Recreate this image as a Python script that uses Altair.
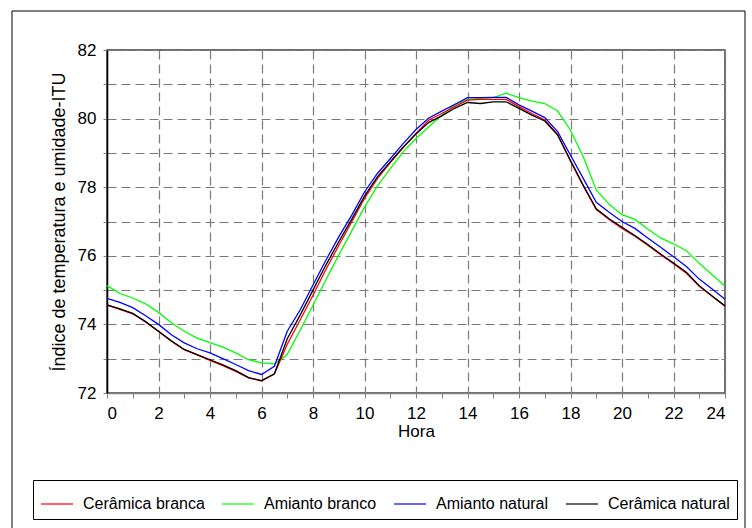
import altair as alt
import pandas as pd

hours = [0, 0.5, 1, 1.5, 2, 2.5, 3, 3.5, 4, 4.5, 5, 5.5, 6, 6.5, 7, 7.5, 8, 8.5,
         9, 9.5, 10, 10.5, 11, 11.5, 12, 12.5, 13, 13.5, 14, 14.5, 15, 15.5, 16,
         16.5, 17, 17.5, 18, 18.5, 19, 19.5, 20, 20.5, 21, 21.5, 22, 22.5, 23,
         23.5, 24]

ceramica_branca = [74.56, 74.44, 74.31, 74.07, 73.79, 73.51, 73.26, 73.11, 72.95, 72.80, 72.63, 72.44, 72.35,
                   72.55, 73.42, 74.13, 74.85, 75.60, 76.30, 76.99, 77.67, 78.25, 78.72, 79.15, 79.57,
                   79.96, 80.15, 80.35, 80.54, 80.56, 80.56, 80.56, 80.35, 80.15, 79.96, 79.54, 78.76,
                   78.03, 77.35, 77.06, 76.80, 76.57, 76.31, 76.03, 75.77, 75.49, 75.11, 74.82, 74.53]

amianto_branco = [75.13, 74.90, 74.77, 74.60, 74.35, 74.05, 73.80, 73.60, 73.47, 73.34, 73.17, 72.97, 72.88,
                  72.85, 73.12, 73.83, 74.56, 75.30, 76.02, 76.72, 77.42, 78.03, 78.54, 79.03, 79.42,
                  79.76, 80.10, 80.40, 80.56, 80.59, 80.61, 80.74, 80.61, 80.51, 80.44, 80.22, 79.66,
                  78.88, 77.92, 77.50, 77.20, 77.06, 76.78, 76.52, 76.35, 76.15, 75.78, 75.45, 75.11]

amianto_natural = [74.76, 74.64, 74.49, 74.25, 74.00, 73.70, 73.46, 73.29, 73.17, 73.00, 72.83, 72.65, 72.54,
                   72.78, 73.80, 74.42, 75.15, 75.87, 76.55, 77.18, 77.86, 78.40, 78.83, 79.27, 79.68,
                   80.02, 80.22, 80.41, 80.61, 80.61, 80.62, 80.62, 80.40, 80.22, 80.03, 79.62, 78.93,
                   78.25, 77.56, 77.27, 77.00, 76.80, 76.52, 76.25, 75.97, 75.69, 75.32, 75.03, 74.73]

ceramica_natural = [74.57, 74.45, 74.32, 74.08, 73.80, 73.52, 73.27, 73.12, 72.97, 72.82, 72.65, 72.45, 72.36,
                    72.56, 73.58, 74.27, 75.00, 75.73, 76.41, 77.06, 77.74, 78.30, 78.74, 79.17, 79.55,
                    79.89, 80.08, 80.30, 80.47, 80.44, 80.49, 80.49, 80.30, 80.10, 79.93, 79.52, 78.78,
                    78.05, 77.37, 77.08, 76.83, 76.59, 76.33, 76.05, 75.79, 75.52, 75.13, 74.83, 74.54]

series_names = ["Cerâmica branca", "Amianto branco", "Amianto natural", "Cerâmica natural"]
series_colors = ["#ff0000", "#00ff00", "#0000ff", "#000000"]

x_ticks = [0, 1, 2, 3, 4, 5, 6, 7, 8, 9, 10, 11, 12, 13, 14, 15, 16, 17, 18, 19, 20, 21, 22, 23, 24]
x_top_ticks = [0, 2, 4, 6, 8, 10, 12, 14, 16, 18, 20, 22, 24]
y_ticks = [72, 73, 74, 75, 76, 77, 78, 79, 80, 81, 82]

# draw order: green, blue, red, black (black on top)
draw_order = [("Amianto branco", amianto_branco), ("Amianto natural", amianto_natural),
              ("Cerâmica branca", ceramica_branca), ("Cerâmica natural", ceramica_natural)]
rows = []
for name, vals in draw_order:
    for h, v in zip(hours, vals):
        rows.append({"Hora": h, "ITU": v, "Serie": name})
df = pd.DataFrame(rows)

FONT = "Liberation Sans"

xscale = alt.Scale(domain=[0, 24], nice=False, zero=False)
yscale = alt.Scale(domain=[72, 82], nice=False, zero=False)

lines = alt.Chart(df).mark_line(strokeWidth=1.3).encode(
    x=alt.X("Hora:Q", scale=xscale, axis=alt.Axis(
        values=x_ticks, title="Hora",
        labelExpr="datum.value % 2 === 0 ? datum.label : ''",
        grid=True, gridDash=[9, 5], gridColor="#7a7a7a", gridWidth=1.2,
        gridOpacity={"expr": "datum.value % 2 === 0 ? 1 : 0"},
        domainColor="#808080", domainWidth=1.5, tickColor="#808080", tickSize=5,
        labelFontSize=17, labelColor="black", labelPadding=7, labelFont=FONT,
        titleFontSize=17, titleFontWeight="normal", titleColor="black", titleFont=FONT,
        titlePadding=2)),
    y=alt.Y("ITU:Q", scale=yscale, axis=alt.Axis(
        values=y_ticks, title="Índice de temperatura e umidade-ITU",
        labelExpr="datum.value % 2 === 0 ? datum.label : ''",
        grid=True, gridDash=[9, 5], gridColor="#7a7a7a", gridWidth=1.2,
        domainColor="black", domainWidth=1.5, tickColor="#808080", tickSize=4,
        labelFontSize=17, labelColor="black", labelPadding=7, labelFont=FONT,
        titleFontSize=18, titleFontWeight="normal", titleColor="black", titleFont=FONT,
        titlePadding=9)),
    color=alt.Color("Serie:N", scale=alt.Scale(domain=series_names, range=series_colors),
                    legend=alt.Legend(
                        orient="none", legendX=-74, legendY=430, direction="horizontal",
                        columns=4, title=None, symbolType="stroke", symbolSize=1024,
                        symbolStrokeWidth=1.2, labelFontSize=16, labelFont=FONT,
                        labelColor="black", labelOffset=9, columnPadding=14, padding=7,
                        strokeColor="black", fillColor="white")),
)

mirror = alt.Chart(df).mark_line(opacity=0).encode(
    x=alt.X("Hora:Q", scale=xscale, axis=alt.Axis(
        orient="top", values=x_top_ticks, labels=False, domain=False, grid=False,
        tickColor="#808080", tickSize=4, offset=-4, title=None)),
    y=alt.Y("ITU:Q", scale=yscale, axis=alt.Axis(
        orient="right", values=y_ticks, labels=False, domain=False, grid=False,
        tickColor="#808080", tickSize=4, offset=-4, title=None)),
)

frame = alt.Chart(alt.Data(values=[{}])).mark_rect(
    fill="transparent", stroke="black", strokeWidth=1
).encode(
    x=alt.value(-95), x2=alt.value(638), y=alt.value(-39), y2=alt.value(480)
)

chart = alt.layer(frame, lines, mirror).resolve_axis(
    x="independent", y="independent"
).properties(
    width=618, height=343, autosize="none",
    padding={"left": 107, "top": 50, "right": 27, "bottom": 135},
    background="white",
).configure_view(stroke="#404040", strokeWidth=1.5)

chart.save("out.html", embed_options={"renderer": "svg", "actions": False})
